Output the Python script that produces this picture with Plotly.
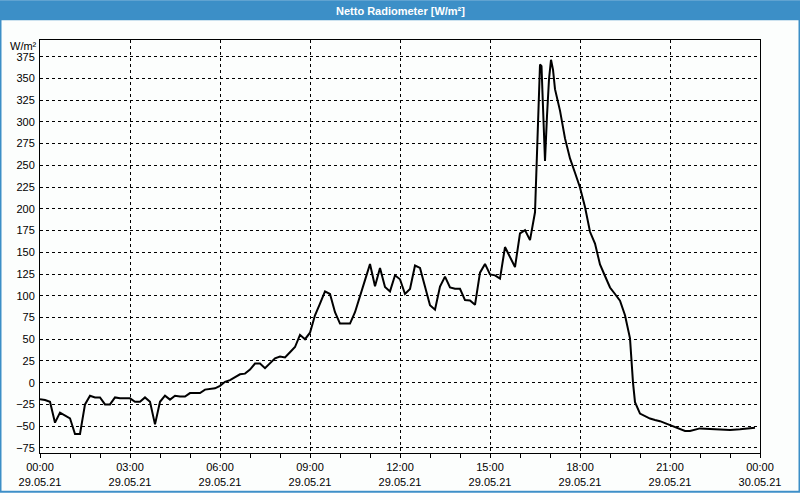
import plotly.graph_objects as go

DAY = "2021-05-29"

times = [
    "00:00", "00:10", "00:20", "00:30", "00:40", "00:50", "01:00", "01:10", "01:20", "01:30",
    "01:40", "01:50", "02:00", "02:10", "02:20", "02:30", "02:40", "02:50", "03:00", "03:10",
    "03:20", "03:30", "03:40", "03:50", "04:00", "04:10", "04:20", "04:30", "04:40", "04:50",
    "05:00", "05:10", "05:20", "05:30", "05:40", "05:50", "06:00", "06:10", "06:20", "06:30",
    "06:40", "06:50", "07:00", "07:10", "07:20", "07:30", "07:40", "07:50", "08:00", "08:10",
    "08:20", "08:30", "08:40", "08:50", "09:00", "09:10", "09:20", "09:30", "09:40", "09:50",
    "10:00", "10:10", "10:20", "10:30", "10:40", "10:50", "11:00", "11:10", "11:20", "11:30",
    "11:40", "11:50", "12:00", "12:10", "12:20", "12:30", "12:40", "12:50", "13:00", "13:10",
    "13:20", "13:30", "13:40", "13:50", "14:00", "14:10", "14:20", "14:30", "14:40", "14:50",
    "15:00", "15:10", "15:20", "15:30", "15:40", "15:50", "16:00", "16:10", "16:20", "16:30",
    "16:36", "16:40", "16:43", "16:46", "16:50", "16:54", "16:58", "17:02", "17:06", "17:10",
    "17:20", "17:30", "17:40", "17:50", "18:00", "18:10", "18:20", "18:30", "18:40", "18:50",
    "19:00", "19:10", "19:20", "19:30", "19:40", "19:46", "19:50", "20:00", "20:10", "20:20",
    "20:30", "20:40", "20:50", "21:00", "21:10", "21:20", "21:30", "21:40", "21:50", "22:00",
    "22:10", "22:20", "22:40", "23:00", "23:20", "23:40", "23:50",
]

values = [
    -19, -20, -22, -46, -34.5, -38, -41, -59, -59, -25,
    -15, -17, -17, -25, -25, -17, -18, -18, -18, -22,
    -22, -17, -22, -48, -22, -15, -19.5, -15, -16, -16,
    -12, -12, -12, -8, -7, -6.5, -3.6, 1, 3, 6,
    9.6, 10.4, 15, 22, 22, 16.7, 22, 28, 30, 29,
    35, 41, 55, 50, 57.5, 77.5, 91, 105, 102, 81,
    68, 68, 68, 81, 101, 118, 136.6, 111, 132, 110,
    105, 123.5, 119, 102, 107.7, 134.8, 132, 111, 89, 84,
    110.6, 122, 109.5, 108, 108, 95, 94.5, 89.6, 126.5, 136.6,
    124.6, 123.5, 119.7, 156, 145, 133, 171.7, 175.5, 164, 196,
    298, 366, 364, 319, 255, 307, 349, 371.5, 360, 337.6,
    313, 281, 258, 241.5, 224.5, 202, 173.6, 160, 136, 122.7,
    109.5, 102, 94.4, 77.5, 51, 0, -22.4, -35.6, -38.5, -41.3,
    -43, -44.3, -46.5, -48.8, -51, -53.7, -55.6, -55.5, -53.7, -52.6,
    -53, -53.4, -54, -54.5, -53.7, -52.5, -51.8,
]

x_range = ["2021-05-29 00:00", "2021-05-30 00:00"]
y_range = [-80.9, 394.2]

title_text = "Netto Radiometer [W/m²]"
unit_text = "W/m²"

FONT = "Liberation Sans"
BLUE = "#3c8fc7"
BG = "#fcfefd"

x = [f"{DAY} {t}" for t in times]

fig = go.Figure()
fig.add_trace(go.Scatter(x=x, y=values, mode="lines",
                         line=dict(color="black", width=2), hoverinfo="skip"))

fig.update_layout(
    width=800, height=500,
    margin=dict(l=40, r=40, t=40, b=40),
    paper_bgcolor=BG, plot_bgcolor=BG,
    showlegend=False,
    font=dict(family=FONT, size=11, color="black"),
)

fig.update_xaxes(
    type="date", range=x_range,
    tick0="2021-05-29", dtick=3 * 3600000,
    tickformat="%H:%M<br>%d.%m.%y",
    ticks="outside", ticklen=4, tickcolor="black",
    showline=True, linecolor="black", linewidth=1, mirror=True,
    showgrid=True, gridcolor="black", gridwidth=1, griddash="3px,3px",
    minor=dict(dtick=3600000, ticks="outside", ticklen=4, tickcolor="black", showgrid=False),
    zeroline=False,
)
fig.update_yaxes(
    range=y_range, tick0=0, dtick=25,
    ticks="", showline=True, linecolor="black", linewidth=1, mirror=True,
    showgrid=True, gridcolor="black", gridwidth=1, griddash="3px,3px",
    zeroline=False, ticklabelstandoff=2,
)

px_x = lambda p: (p - 40) / 720
px_y = lambda p: (460 - p) / 420

fig.add_shape(type="rect", xref="paper", yref="paper",
              x0=px_x(0), x1=px_x(800), y0=px_y(20), y1=px_y(0),
              fillcolor=BLUE, line=dict(width=0), layer="below")
fig.add_shape(type="rect", xref="paper", yref="paper",
              x0=px_x(0.5), x1=px_x(799.5), y0=px_y(499.5), y1=px_y(0.5),
              fillcolor="rgba(0,0,0,0)", line=dict(color=BLUE, width=2))
fig.add_annotation(text=f"<b>{title_text}</b>", xref="paper", yref="paper",
                   x=px_x(400), y=px_y(10), showarrow=False,
                   font=dict(family=FONT, size=11, color="white"),
                   xanchor="center", yanchor="middle")
fig.add_annotation(text=unit_text, xref="paper", yref="paper",
                   x=px_x(23), y=px_y(46), showarrow=False,
                   font=dict(family=FONT, size=11, color="black"),
                   xanchor="center", yanchor="middle")

page_css = "document.body.style.margin='0';document.body.style.overflow='hidden';"
fig.write_html("out.html", post_script=page_css)
